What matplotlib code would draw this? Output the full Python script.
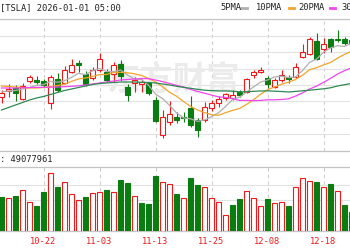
import matplotlib
matplotlib.use("Agg")
import matplotlib.pyplot as plt
from matplotlib.lines import Line2D
import numpy as np

# ---------------- data ----------------
dates = ["10-14", "10-15", "10-16", "10-17", "10-20", "10-21", "10-22", "10-23", "10-24", "10-27",
         "10-28", "10-29", "10-30", "10-31", "11-03", "11-04", "11-05", "11-06", "11-07", "11-10",
         "11-11", "11-12", "11-13", "11-14", "11-17", "11-18", "11-19", "11-20", "11-21", "11-24",
         "11-25", "11-26", "11-28", "12-01", "12-02", "12-03", "12-04", "12-05", "12-08", "12-09",
         "12-10", "12-11", "12-12", "12-15", "12-16", "12-17", "12-18", "12-19", "12-22", "12-23",
         "12-24"]

opens = [424, 430, 433, 422, 440, 441.5, 440, 418, 442, 438,
         449, 458, 447, 443, 451, 449, 447, 457, 434, 438,
         437, 438, 421, 386.5, 399, 404, 404, 413, 401, 401,
         413, 418, 423, 423, 429, 429, 446, 449, 443, 434,
         441, 444, 444, 464, 467, 480.5, 472, 482, 482, 482,
         481]
closes = [428, 432, 428, 435, 444, 439, 436, 444, 431, 451,
          456, 456.5, 437, 451, 462, 441, 456, 445, 426, 441,
          439, 428, 400.5, 404, 407, 401, 403, 396, 391, 414,
          418, 422, 427, 426.5, 426, 442, 449, 451, 437, 441,
          446, 442, 454, 469, 482, 462, 477, 474.5, 481, 478,
          477]
highs = [431, 437, 436, 438, 446, 445, 442, 446, 448, 455,
         462, 461, 450, 454, 468, 452, 459, 461, 437, 444,
         442, 439, 424, 411, 420, 409, 409, 425, 403, 419,
         421, 425, 428, 431, 431, 443, 451, 454, 445, 443,
         451, 446, 458, 477, 484, 488, 483, 483, 491, 484,
         483]
lows = [418, 424, 420, 421, 438, 437, 434, 412, 429, 437,
        448, 449, 435, 441, 449, 439, 439, 440, 420, 429,
        429, 426, 399, 383, 396, 398, 399, 394, 384.5, 399,
        410, 414, 421, 421, 424, 428, 443, 448, 433, 433,
        439, 438, 443, 463, 466, 461, 468, 469, 479, 476,
        476]
prev_close = 431.0   # close of the session before the first visible one

volumes_m = [88.5, 85.8, 92.7, 106.8, 75.3, 64.8, 102.4, 151.5, 114.7, 127.8,
             97.1, 80.6, 88.5, 99.0, 101.6, 106.8, 101.6, 133.1, 126.0, 92.7,
             73.5, 70.9, 145.2, 127.8, 123.4, 97.1, 85.8, 138.3, 120.8, 116.3,
             85.8, 75.3, 42.8, 69.0, 83.2, 104.2, 85.8, 66.4, 83.2, 73.5,
             75.3, 66.4, 116.3, 138.3, 130.5, 127.8, 114.7, 123.4, 104.2, 69.0,
             49.1]

ma5 = [429, 430, 430.5, 432, 433.4, 435.6, 436.4, 439.6, 438.8, 440.2,
       443.6, 447.7, 446.3, 450.3, 452.5, 449.5, 449.4, 451, 446, 441.8,
       441.4, 435.8, 426.9, 422.5, 415.7, 408.1, 403.1, 402.2, 399.6, 401,
       404.4, 408.2, 414.4, 421.5, 423.9, 428.7, 434.1, 438.9, 441, 444,
       444.8, 443.4, 444, 450.4, 458.6, 461.8, 468.8, 472.9, 475.3, 474.5,
       477.9]
ma10 = [435, 434.5, 434, 433.5, 433, 433, 433.5, 434.5, 435.5, 436.8,
        439.6, 442, 443, 444.5, 446.4, 446.5, 448.5, 448.7, 448.2, 447.2,
        445.5, 442.6, 439, 434.3, 428.8, 424.8, 419.5, 414.6, 411, 408.4,
        406.3, 405.7, 408.3, 410.6, 412.5, 416.6, 421.2, 426.7, 431.3, 434,
        436.8, 438.8, 441.5, 445.7, 451.3, 453.3, 456.1, 458.5, 462.9, 466.6,
        469.9]
ma20 = [433, 433, 433, 433.2, 433.5, 433.6, 433.7, 433.8, 434, 434.3,
        434.7, 435.2, 436, 437, 438, 439, 440, 441, 441.5, 442,
        442.5, 442.3, 441, 439.4, 437.6, 435.7, 434, 431.6, 429.6, 427.8,
        425.9, 424.1, 423.6, 422.4, 420.6, 420.7, 420.3, 420.6, 421.2, 421.2,
        421.5, 422.2, 424.9, 428.1, 431.9, 434.9, 438.6, 442.6, 447, 450.3,
        453.3]
ma30 = [411, 413.5, 416, 418.5, 421, 423, 424.5, 426.5, 428.5, 430.5,
        432, 433.5, 435, 436.5, 437.5, 438, 438.5, 439, 439, 439,
        438.7, 438.5, 438, 437, 436, 434.7, 433.7, 432.7, 431.7, 430.8,
        430.4, 430.1, 430.1, 429.8, 429.2, 429.3, 429.7, 430, 430.2, 429.8,
        429.5, 429, 429.6, 430.2, 430.8, 431.5, 432.2, 433.2, 435, 436.3,
        437.6]

title_text = "[TSLA] 2026-01-01 05:00"
volume_label = ": 49077961"
legend_names = ["5PMA", "10PMA", "20PMA", "30PMA"]

# ---------------- style ----------------
plt.rcParams['font.family'] = ['DejaVu Sans Mono', 'Noto Sans CJK SC']
RED = "#f01818"
GREEN = "#0a7d12"
MA_COLORS = ["#b0b0b0", "#f3a42a", "#f046f0", "#2f8a52"]
GRID = "#e2e2e2"
BORDER = "#c4c4c4"
VGRID = "#cdcdcd"
TXT = "#222222"

W, H = 350, 250
fig = plt.figure(figsize=(3.5, 2.5), dpi=100)
fig.patch.set_facecolor("white")

def fx(px):
    return px / W

def fy(py):
    return 1 - py / H

P_TOP, P_BOT = 19.3, 150.5
V_TOP, V_BOT = 167.0, 231.0
ax_p = fig.add_axes([0, fy(P_BOT), 1, (P_BOT - P_TOP) / H])
ax_v = fig.add_axes([0, fy(V_BOT), 1, (V_BOT - V_TOP) / H])

o = np.array(opens, float)
c = np.array(closes, float)
hi = np.array(highs, float)
lo = np.array(lows, float)
vol = np.array(volumes_m, float)
n = len(dates)
x = np.arange(n)

x0 = -1.5 / 7
xlim = (x0, x0 + W / 7)
tick_idx = x[6::8]

# ---------------- price panel ----------------
p_lo, p_hi = 370.5, 501.7
ax_p.set_xlim(*xlim)
ax_p.set_ylim(p_lo, p_hi)
ax_p.set_yticks(np.linspace(p_lo, p_hi, 9))
ax_p.set_xticks(tick_idx)
ax_p.grid(axis="y", color=GRID, lw=0.8)
ax_p.grid(axis="x", color=VGRID, lw=0.8, ls=(0, (3, 3)))
ax_p.set_axisbelow(True)
ax_p.tick_params(length=0, labelleft=False, labelbottom=False)
for s in ["left", "right"]:
    ax_p.spines[s].set_visible(False)
for s in ["top", "bottom"]:
    ax_p.spines[s].set_color(BORDER)
    ax_p.spines[s].set_linewidth(0.9)

up = c >= o
cols = np.where(up, RED, GREEN)
ax_p.vlines(x, lo, hi, colors=cols, lw=0.8, zorder=2)
body_h = np.maximum(np.abs(c - o), 0.7)
ax_p.bar(x, body_h, bottom=np.minimum(o, c), width=0.7,
         color=np.where(up, "white", GREEN), edgecolor=cols, linewidth=0.8, zorder=3)

for vals, col in zip([ma5, ma10, ma20, ma30], MA_COLORS):
    ax_p.plot(x, vals, color=col, lw=0.9, zorder=4)

ax_p.text(fx(173), fy(81), "东方财富", transform=fig.transFigure, ha="center", va="center",
          fontsize=24, color="#ebebeb", fontweight="bold",
          family=["Noto Sans CJK SC"], zorder=0.6)

# ---------------- volume panel ----------------
prev = np.concatenate([[prev_close], c[:-1]])
vup = c >= prev
vcols = np.where(vup, RED, GREEN)
ax_v.set_xlim(*xlim)
ax_v.set_ylim(0, 168)
ax_v.set_yticks([40.25, 80.5, 120.75])
ax_v.grid(axis="y", color=GRID, lw=0.8)
ax_v.grid(axis="x", color=VGRID, lw=0.8, ls=(0, (3, 3)))
ax_v.set_axisbelow(True)
ax_v.bar(x, vol, width=0.7, color=np.where(vup, "white", GREEN),
         edgecolor=vcols, linewidth=0.8, zorder=3)
ax_v.set_xticks(tick_idx, [dates[i] for i in tick_idx])
ax_v.tick_params(axis="x", length=0, pad=4.5, labelsize=6.3, labelcolor=RED)
ax_v.tick_params(axis="y", length=0, labelleft=False)
for s in ["left", "right"]:
    ax_v.spines[s].set_visible(False)
for s in ["top", "bottom"]:
    ax_v.spines[s].set_color(BORDER)
    ax_v.spines[s].set_linewidth(0.9)

# ---------------- texts ----------------
fig.text(fx(-0.5), fy(7.5), title_text, ha="left", va="center", fontsize=6.3, color=TXT)
fig.text(fx(0.5), fy(159.5), volume_label, ha="left", va="center", fontsize=6.3, color=TXT)

leg_text_px = [220, 256, 298, 341]
leg_dash_px = [241.5, 289, 330, 372]
for name, tx, dx, col in zip(legend_names, leg_text_px, leg_dash_px, MA_COLORS):
    fig.text(fx(tx), fy(7.5), name, ha="left", va="center", fontsize=6.3, color=TXT)
    fig.add_artist(Line2D([fx(dx), fx(dx + 5)], [fy(7.5), fy(7.5)],
                          transform=fig.transFigure, color=col, lw=2.0))

fig.savefig("out.png", dpi=100, facecolor="white")
